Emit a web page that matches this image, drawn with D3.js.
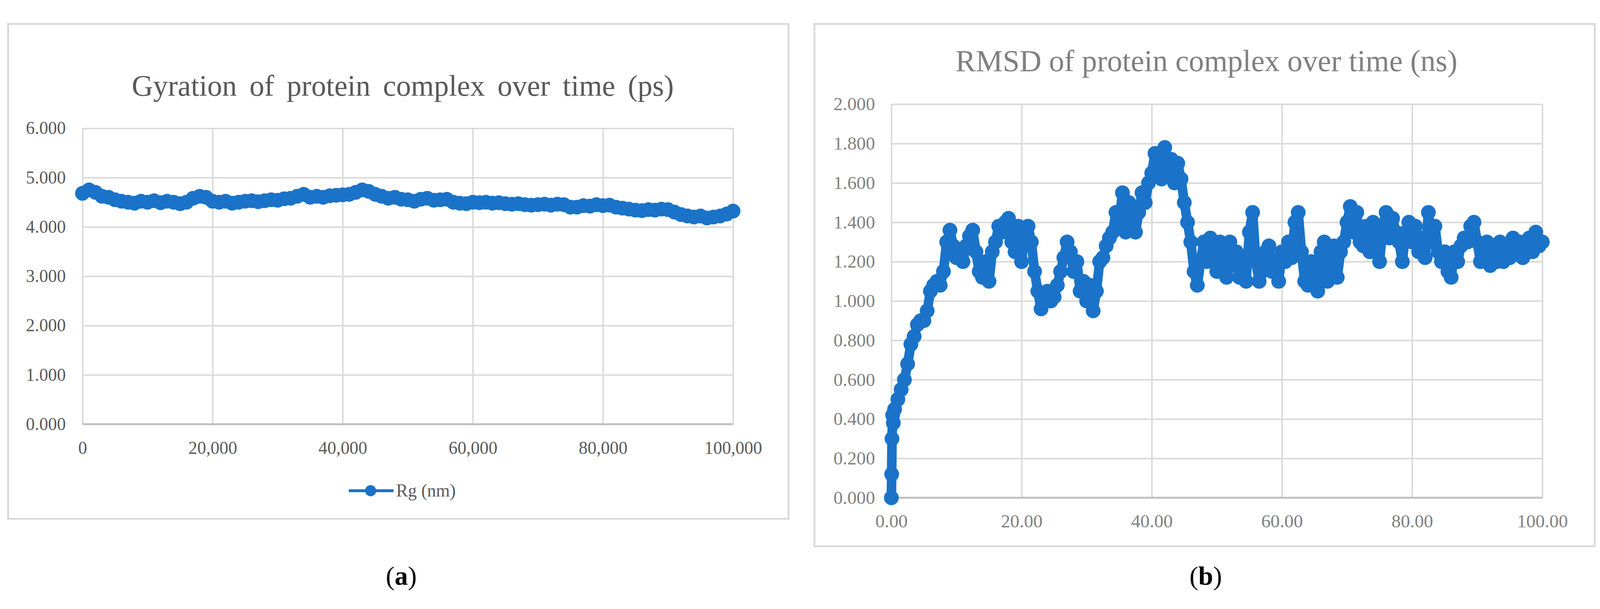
<!DOCTYPE html>
<html><head><meta charset="utf-8">
<script src="https://cdn.jsdelivr.net/npm/d3@7"></script>
<style>html,body{margin:0;padding:0;background:#fff;overflow:hidden}svg{display:block;width:100vw;height:100vh}</style></head>
<body><svg id="c" viewBox="0 0 4326 1559" preserveAspectRatio="xMidYMid meet"></svg>
<script>
// ---- Data ----
const rgStepPs = 1000;
const rgValues = [4.68,4.75,4.70,4.62,4.60,4.55,4.52,4.50,4.48,4.52,4.50,4.53,4.49,4.52,4.50,4.47,4.50,4.58,4.62,4.60,4.52,4.50,4.52,4.48,4.50,4.52,4.53,4.51,4.53,4.55,4.54,4.57,4.58,4.62,4.66,4.60,4.62,4.60,4.63,4.64,4.65,4.66,4.70,4.75,4.72,4.66,4.62,4.58,4.60,4.56,4.55,4.52,4.56,4.58,4.54,4.55,4.56,4.50,4.48,4.47,4.50,4.49,4.50,4.48,4.49,4.47,4.46,4.47,4.45,4.44,4.45,4.46,4.44,4.46,4.45,4.40,4.40,4.43,4.42,4.45,4.43,4.44,4.40,4.38,4.36,4.34,4.33,4.35,4.34,4.36,4.35,4.30,4.25,4.22,4.20,4.22,4.18,4.20,4.22,4.26,4.32];
const rgXTicks = [0,20000,40000,60000,80000,100000];
const rgYTicks = [0,1,2,3,4,5,6];

const rmsdStepNs = 0.5;
const rmsdStart = [[0,0.0],[0.05,0.12],[0.1,0.30],[0.2,0.42],[0.3,0.38]];
const rmsdValues = [0.45,0.50,0.55,0.60,0.68,0.78,0.82,0.88,0.90,0.90,0.95,1.05,1.08,1.10,1.08,1.15,1.30,1.36,1.28,1.22,1.25,1.20,1.28,1.33,1.36,1.25,1.15,1.12,1.20,1.10,1.25,1.30,1.38,1.35,1.40,1.42,1.30,1.25,1.38,1.20,1.35,1.38,1.30,1.15,1.05,0.96,1.00,1.05,1.00,1.02,1.08,1.15,1.22,1.30,1.25,1.15,1.20,1.05,1.10,1.00,1.08,0.95,1.05,1.20,1.22,1.28,1.32,1.35,1.45,1.40,1.55,1.35,1.50,1.40,1.35,1.45,1.55,1.50,1.60,1.65,1.75,1.70,1.62,1.78,1.65,1.72,1.60,1.70,1.62,1.50,1.40,1.30,1.15,1.08,1.20,1.30,1.20,1.32,1.25,1.15,1.30,1.20,1.12,1.30,1.18,1.25,1.12,1.22,1.10,1.35,1.45,1.20,1.10,1.15,1.25,1.28,1.15,1.20,1.10,1.25,1.20,1.30,1.22,1.40,1.45,1.25,1.10,1.08,1.20,1.10,1.05,1.25,1.30,1.10,1.20,1.28,1.12,1.25,1.30,1.40,1.48,1.35,1.45,1.30,1.28,1.38,1.25,1.40,1.30,1.20,1.38,1.45,1.32,1.42,1.35,1.30,1.20,1.35,1.40,1.30,1.38,1.25,1.32,1.22,1.45,1.30,1.38,1.25,1.20,1.25,1.15,1.12,1.25,1.20,1.28,1.32,1.30,1.38,1.40,1.30,1.20,1.25,1.30,1.18,1.25,1.20,1.30,1.20,1.28,1.22,1.32,1.25,1.30,1.22,1.28,1.32,1.25,1.35,1.28,1.30];
const rmsdXTicks = [0,20,40,60,80,100];
const rmsdYTicks = [0,0.2,0.4,0.6,0.8,1.0,1.2,1.4,1.6,1.8,2.0];

const rgData = rgValues.map((v,i)=>[i*rgStepPs, v]);
const rmsdData = rmsdStart.concat(rmsdValues.map((v,i)=>[0.5+i*rmsdStepNs, v]));

const BLUE = "#1a73c8", GRID = "#d9d9d9", FONT = "Liberation Serif, Times New Roman, serif";
const svg = d3.select("#c");

function panel(o){
  const g = svg.append("g");
  g.append("rect").attr("x",o.frame[0]).attr("y",o.frame[1]).attr("width",o.frame[2]-o.frame[0]).attr("height",o.frame[3]-o.frame[1])
    .attr("fill","#fff").attr("stroke",GRID).attr("stroke-width",5);
  const x = d3.scaleLinear().domain(o.xd).range([o.plot[0],o.plot[2]]);
  const y = d3.scaleLinear().domain(o.yd).range([o.plot[3],o.plot[1]]);
  g.append("g").attr("transform",`translate(0,${o.plot[3]})`)
    .call(d3.axisBottom(x).tickValues(o.xt).tickSize(-(o.plot[3]-o.plot[1])).tickFormat(""))
    .call(s=>{s.select(".domain").remove(); s.selectAll("line").attr("stroke",GRID).attr("stroke-width",4);});
  g.append("g").attr("transform",`translate(${o.plot[0]},0)`)
    .call(d3.axisLeft(y).tickValues(o.yt).tickSize(-(o.plot[2]-o.plot[0])).tickFormat(""))
    .call(s=>{s.select(".domain").remove(); s.selectAll("line").attr("stroke",GRID).attr("stroke-width",4);});
  g.append("line").attr("x1",o.plot[0]).attr("x2",o.plot[2]).attr("y1",o.plot[3]).attr("y2",o.plot[3]).attr("stroke","#bfbfbf").attr("stroke-width",5);
  g.append("g").attr("transform",`translate(0,${o.plot[3]+o.xlabOff})`)
    .call(d3.axisBottom(x).tickValues(o.xt).tickSize(0).tickPadding(0).tickFormat(o.xf))
    .call(s=>{s.select(".domain").remove(); s.selectAll("text").attr("font-family",FONT).attr("font-size",o.fs).attr("fill",o.tc).attr("dy","0");});
  g.append("g").attr("transform",`translate(${o.ylabX},0)`)
    .call(d3.axisLeft(y).tickValues(o.yt).tickSize(0).tickPadding(0).tickFormat(d3.format(".3f")))
    .call(s=>{s.select(".domain").remove(); s.selectAll("text").attr("font-family",FONT).attr("font-size",o.fs).attr("fill",o.tc);});
  g.append("path").datum(o.data).attr("fill","none").attr("stroke",BLUE).attr("stroke-width",o.sw)
    .attr("stroke-linejoin","round").attr("d",d3.line().x(d=>x(d[0])).y(d=>y(d[1])));
  g.selectAll("circle.m").data(o.data).join("circle").attr("class","m")
    .attr("cx",d=>x(d[0])).attr("cy",d=>y(d[1])).attr("r",o.r).attr("fill",BLUE);
  g.append("text").attr("x",o.title[1]).attr("y",o.title[2]).attr("text-anchor","middle")
    .attr("font-family",FONT).attr("font-size",o.title[3]).attr("fill",o.tc)
    .attr("word-spacing",o.title[4]).text(o.title[0]);
  return g;
}

const gA = panel({frame:[22,21,2132,1359], plot:[223,303,1982,1103], xd:[0,100000], yd:[0,6],
  xt:rgXTicks, yt:rgYTicks, xf:d3.format(","), fs:48, tc:"#595959", xlabOff:80, ylabX:178, data:rgData, r:20, sw:26,
  title:["Gyration of protein complex over time (ps)",1089,215,80,14]});
gA.append("line").attr("x1",943).attr("x2",1064).attr("y1",1283).attr("y2",1283).attr("stroke",BLUE).attr("stroke-width",8);
gA.append("circle").attr("cx",1002).attr("cy",1283).attr("r",15).attr("fill",BLUE);
gA.append("text").attr("x",1071).attr("y",1299).attr("font-family",FONT).attr("font-size",48).attr("fill","#595959").text("Rg (nm)");

panel({frame:[2202,21,4312,1433], plot:[2410,238,4170,1302], xd:[0,100], yd:[0,2],
  xt:rmsdXTicks, yt:rmsdYTicks, xf:d3.format(".2f"), fs:50, tc:"#808080", xlabOff:80, ylabX:2366, data:rmsdData, r:20, sw:26,
  title:["RMSD of protein complex over time (ns)",3262,148,82,0]});

svg.append("text").attr("x",1085).attr("y",1537).attr("text-anchor","middle").attr("font-family",FONT).attr("font-size",72)
  .html('(<tspan font-weight="bold">a</tspan>)');
svg.append("text").attr("x",3260).attr("y",1537).attr("text-anchor","middle").attr("font-family",FONT).attr("font-size",72)
  .html('(<tspan font-weight="bold">b</tspan>)');
</script></body></html>
